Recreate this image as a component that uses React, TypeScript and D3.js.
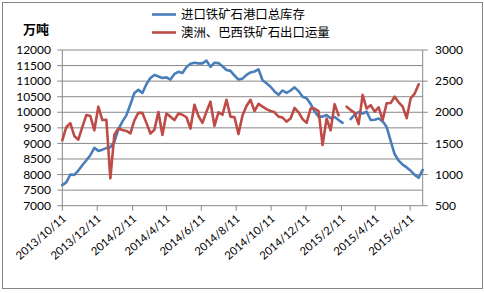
import React from 'react';
import * as d3 from 'd3';

const startDate = '2013/10/11';
const inventory: (number | null)[] = [
  7660, 7750, 8000, 7990, 8130, 8300, 8460, 8620, 8860, 8760,
  8800, 8850, 8880, 9050, 9450, 9700, 9900, 10250, 10620, 10720,
  10620, 10900, 11100, 11200, 11150, 11100, 11120, 11050, 11230, 11300,
  11260, 11450, 11560, 11590, 11570, 11570, 11660, 11460, 11590, 11580,
  11480, 11360, 11330, 11180, 11050, 11080, 11200, 11280, 11310, 11380,
  11030, 10930, 10820, 10670, 10560, 10700, 10620, 10700, 10800, 10680,
  10500, 10450, 10270, 10030, 9860, 9860, 9910, 9810, 9850, 9750,
  9660, null, 9780, 9920, 10010, 9960, 10020, 9750, 9760, 9800,
  9710, 9530, 9080, 8650, 8450, 8320, 8230, 8120, 7990, 7900,
  8150,
];
const shipments: (number | null)[] = [
  1550, 1760, 1825, 1620, 1560, 1760, 1955, 1940, 1710, 2090,
  1875, 1880, 940, 1640, 1740, 1715, 1700, 1660, 1870, 1990,
  1990, 1830, 1660, 1720, 2005, 1635, 1980, 1930, 1875, 1980,
  1960, 1920, 1740, 2120, 1940, 1830, 2010, 2170, 1780, 2000,
  1960, 2200, 1930, 1920, 1650, 1950, 2100, 2200, 2020, 2135,
  2090, 2050, 2020, 2000, 1930, 1915, 1850, 1900, 2070, 2000,
  1890, 1830, 2060, 2060, 2020, 1475, 1900, 1710, 2130, 1950,
  null, 2090, 2035, 1990, 1810, 2280, 2060, 2115, 2010, 2080,
  1875, 2145, 2150, 2250, 2160, 2090, 1905, 2225, 2300, 2450,
  null,
];
const leftTicks = [7000, 7500, 8000, 8500, 9000, 9500, 10000, 10500, 11000, 11500, 12000];
const rightTicks = [500, 1000, 1500, 2000, 2500, 3000];
const xTickLabels = ['2013/10/11', '2013/12/11', '2014/2/11', '2014/4/11', '2014/6/11', '2014/8/11', '2014/10/11', '2014/12/11', '2015/2/11', '2015/4/11', '2015/6/11'];
const seriesNames = ['进口铁矿石港口总库存', '澳洲、巴西铁矿石出口运量'];
const unitLabel = '万吨';

const parse = d3.timeParse('%Y/%m/%d');
const start = parse(startDate) as Date;
const dates = inventory.map((_, i) => d3.timeDay.offset(start, 7 * i));

const BLUE = '#4A7EBB';
const RED = '#BE4B48';
const GRID = '#888888';
const NUMFONT = 'Lato, "Liberation Sans", sans-serif';
const CJK = '"Noto Sans CJK SC", sans-serif';

export default function App() {
  const left = 62.3, right = 422.7, top = 50, bottom = 205.7;
  const x = d3.scaleTime().domain([start, dates[dates.length - 1]]).range([left, right]);
  const yL = d3.scaleLinear().domain([7000, 12000]).range([bottom, top]);
  const yR = d3.scaleLinear().domain([500, 3000]).range([bottom, top]);

  const lineL = d3.line<number | null>()
    .defined((d) => d != null)
    .x((_, i) => x(dates[i]))
    .y((d) => yL(d as number));
  const lineR = d3.line<number | null>()
    .defined((d) => d != null)
    .x((_, i) => x(dates[i]))
    .y((d) => yR(d as number));

  const tickDates = xTickLabels.map((s) => parse(s) as Date);

  return (
    <svg width={484} height={293} style={{ position: 'absolute', left: 0, top: 0, background: '#fff' }}>
      <rect x={2.5} y={2.5} width={480} height={286} fill="#fff" stroke="#868686" strokeWidth={1} />
      {leftTicks.map((t) => (
        <g key={'g' + t}>
          <line x1={left - 5} x2={right} y1={yL(t)} y2={yL(t)} stroke={GRID} strokeWidth={1} />
          <text x={51} y={yL(t)} dy="0.35em" textAnchor="end" fontFamily={NUMFONT} fontSize={12} fill="#000">{t}</text>
        </g>
      ))}
      <line x1={left} x2={left} y1={top} y2={bottom} stroke={GRID} />
      <line x1={right} x2={right} y1={top} y2={bottom} stroke={GRID} />
      {rightTicks.map((t) => (
        <g key={'r' + t}>
          <line x1={right} x2={right + 5} y1={yR(t)} y2={yR(t)} stroke={GRID} />
          <text x={435} y={yR(t)} dy="0.35em" fontFamily={NUMFONT} fontSize={12} fill="#000">{t}</text>
        </g>
      ))}
      {tickDates.map((d, i) => (
        <g key={'x' + i}>
          <line x1={x(d)} x2={x(d)} y1={bottom} y2={bottom + 5} stroke={GRID} />
          <text
            transform={`translate(${x(d) + 2},${bottom + 11}) rotate(-41)`}
            textAnchor="end"
            dy="0.35em"
            fontFamily={NUMFONT}
            fontSize={11.2}
            fill="#000"
          >{xTickLabels[i]}</text>
        </g>
      ))}
      <path d={lineL(inventory) || ''} fill="none" stroke={BLUE} strokeWidth={2.6} strokeLinejoin="round" strokeLinecap="round" />
      <path d={lineR(shipments) || ''} fill="none" stroke={RED} strokeWidth={2.6} strokeLinejoin="round" strokeLinecap="round" />
      <text x={23} y={29} dy="0.35em" fontFamily={CJK} fontWeight="bold" fontSize={13} fill="#000">{unitLabel}</text>
      <line x1={152} x2={176} y1={14.5} y2={14.5} stroke={BLUE} strokeWidth={2.6} />
      <text x={181} y={14.5} dy="0.35em" fontFamily={CJK} fontSize={12.4} fill="#000">{seriesNames[0]}</text>
      <line x1={152} x2={176} y1={32.5} y2={32.5} stroke={RED} strokeWidth={2.6} />
      <text x={181} y={32.5} dy="0.35em" fontFamily={CJK} fontSize={12.4} fill="#000">{seriesNames[1]}</text>
    </svg>
  );
}
